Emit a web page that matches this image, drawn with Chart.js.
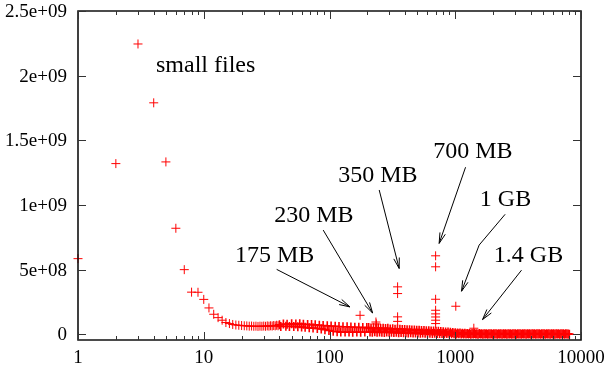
<!DOCTYPE html>
<html lang="en">
  <head>
    <meta charset="UTF-8" />
    <title>Bytes per file size</title>
    <script src="https://cdn.jsdelivr.net/npm/chart.js"></script>
    <style>
      html,
      body {
        margin: 0;
        padding: 0;
        background: #fff;
      }
      #chart-container {
        width: 608px;
        height: 368px;
      }
    </style>
  </head>
  <body>
    <div id="chart-container">
      <canvas id="sizeChart" width="608" height="368"></canvas>
    </div>

    <script>
      // file size (MB) -> total bytes, small sizes one by one
      const smallSizes = [
        1, 2, 3, 4, 5, 6, 7, 8, 9, 10, 11, 12, 13, 14, 15, 16, 17, 18, 19, 20,
        21, 22, 23, 24, 25, 26, 27, 28, 29, 30, 31, 32, 33, 34, 35, 36, 37, 38, 39,
      ];
      const smallTotals = [
        5.85e8, 1.32e9, 2.245e9, 1.79e9, 1.333e9, 8.2e8, 5.0e8, 3.26e8, 3.25e8, 2.7e8,
        2.04e8, 1.55e8, 1.29e8, 1.09e8, 9.1e7, 8.3e7, 7.6e7, 7.2e7, 7.0e7, 6.8e7,
        6.6e7, 6.5e7, 6.3e7, 6.4e7, 6.2e7, 6.3e7, 6.1e7, 6.3e7, 6.2e7, 6.4e7,
        6.2e7, 6.5e7, 6.3e7, 6.6e7, 6.4e7, 6.8e7, 6.5e7, 7.0e7, 6.6e7,
      ];

      // the dense band from 40 MB up
      const bandSizes = [
        40, 41, 43, 45, 46, 48, 50, 52, 54, 56,
        58, 60, 62, 64, 67, 69, 72, 74, 77, 80,
        83, 86, 89, 92, 96, 99, 103, 107, 111, 115,
        119, 123, 128, 133, 138, 143, 148, 153, 159, 165,
        171, 177, 184, 191, 198,
        205, 210, 214, 219, 224, 229, 234, 239, 244, 250,
        255, 261, 267, 273, 279, 285, 291, 298, 304, 311,
        318, 325, 332, 340, 347, 355, 363, 371, 379, 388,
        396, 405, 414, 423, 433, 442, 452, 462, 473, 483,
        494, 505, 516, 528, 539, 551, 564, 576, 589, 602,
        616, 629, 643, 658, 672, 687, 703, 718, 734, 751,
        767, 785, 802, 820, 838, 857, 876, 895, 915, 936,
        956, 978, 1000, 1022, 1044, 1068, 1091, 1116, 1140, 1166,
        1192, 1218, 1245, 1273, 1301, 1330, 1360, 1390, 1421, 1453,
        1485, 1518, 1552, 1586, 1622, 1658, 1695, 1732, 1771, 1810,
        1851, 1892, 1934, 1977, 2021, 2066, 2112, 2159, 2207, 2256,
        2306, 2357, 2410, 2463, 2518, 2574, 2631, 2690, 2750, 2811,
        2873, 2937, 3003, 3069, 3138, 3207, 3279, 3352, 3426, 3502,
        3580, 3660, 3741, 3824, 3909, 3996, 4085, 4176, 4269, 4364,
        4461, 4560, 4661, 4765, 4871, 4979, 5090, 5203, 5319, 5437,
        5558, 5682, 5808, 5937, 6069, 6204, 6342, 6483, 6627, 6775,
        6925, 7079, 7237, 7398, 7562, 7730, 7902, 8078,
      ];
      const bandTotals = [
        74e6, 60e6, 80e6, 62e6, 78e6, 60e6, 82e6, 61e6, 79e6, 58e6,
        81e6, 56e6, 77e6, 54e6, 76e6, 50e6, 75e6, 48e6, 73e6, 45e6,
        70e6, 42e6, 68e6, 36e6, 66e6, 30e6, 64e6, 24e6, 62e6, 20e6,
        60e6, 17e6, 59e6, 18e6, 58e6, 17e6, 56e6, 16e6, 55e6, 18e6,
        54e6, 16e6, 53e6, 17e6, 52e6,
        52e6, 18e6, 48e6, 16e6, 50e6, 19e6, 46e6, 15e6, 49e6, 18e6,
        45e6, 16e6, 47e6, 14e6, 44e6, 17e6, 46e6, 15e6, 42e6, 16e6,
        43e6, 14e6, 40e6, 15e6, 42e6, 13e6, 39e6, 14e6, 38e6, 12e6,
        37e6, 13e6, 36e6, 11e6, 35e6, 12e6, 34e6, 10e6, 33e6, 11e6,
        32e6, 10e6, 31e6, 9e6, 30e6, 10e6, 29e6, 8e6, 28e6, 9e6,
        27e6, 8e6, 26e6, 7e6, 25e6, 8e6, 24e6, 6e6, 23e6, 7e6,
        21e6, 6e6, 20e6, 5e6, 18e6, 6e6, 17e6, 4e6, 16e6, 5e6,
        14e6, 4e6, 12e6, 3e6, 11e6, 4e6, 10e6, 2e6, 9e6, 3e6,
        8e6, 2e6, 7e6, 3e6, 7e6, 1e6, 6e6, 2e6, 6e6, 2e6,
        5e6, 1e6, 6e6, 2e6, 5e6, 1e6, 4e6, 2e6, 5e6, 1e6,
        5e6, 2e6, 4e6, 1e6, 5e6, 2e6, 4e6, 1e6, 5e6, 2e6,
        4e6, 1e6, 5e6, 2e6, 4e6, 1e6, 5e6, 2e6, 4e6, 1e6,
        5e6, 2e6, 4e6, 1e6, 5e6, 2e6, 4e6, 1e6, 5e6, 2e6,
        4e6, 1e6, 5e6, 2e6, 4e6, 1e6, 5e6, 2e6, 4e6, 1e6,
        5e6, 2e6, 4e6, 1e6, 5e6, 2e6, 4e6, 1e6, 5e6, 2e6,
        4e6, 1e6, 5e6, 2e6, 4e6, 1e6, 5e6, 2e6, 4e6, 1e6,
        4e6, 2e6, 4e6, 1e6, 4e6, 2e6, 3e6, 1e6,
      ];

      // CD / DVD image sizes that stick out of the band
      const peakSizes = [175, 234, 236, 348, 348, 348, 348, 698, 698, 698, 698, 698, 698, 698, 698, 1010, 1405];
      const peakTotals = [
        1.47e8, 9.5e7, 8.0e7, 3.67e8, 3.15e8, 1.35e8, 1.0e8,
        6.07e8, 5.22e8, 2.71e8, 1.86e8, 1.58e8, 1.34e8, 1.09e8, 8.3e7,
        2.17e8, 4.7e7,
      ];

      const xTickValues = [1, 10, 100, 1000, 10000];
      const xTickLabels = ["1", "10", "100", "1000", "10000"];
      const yTickValues = [0, 5e8, 1e9, 1.5e9, 2e9, 2.5e9];
      const yTickLabels = ["0", "5e+08", "1e+09", "1.5e+09", "2e+09", "2.5e+09"];

      // labels and arrows, in data coordinates
      const noteTexts = ["small files", "175 MB", "230 MB", "350 MB", "700 MB", "1 GB", "1.4 GB"];
      const noteX = [4.17, 17.7, 36.3, 117.3, 667, 1569, 2027];
      const noteY = [2.029e9, 5.6e8, 8.7e8, 1.181e9, 1.362e9, 9.92e8, 5.6e8];
      const arrowPaths = [
        [[38.0, 5.02e8], [145.3, 2.12e8]],
        [[89.1, 8.06e8], [220.1, 1.65e8]],
        [[248.4, 1.116e9], [358.1, 5.09e8]],
        [[1207.5, 1.292e9], [744.7, 7.03e8]],
        [[2493, 9.28e8], [1549, 6.9e8], [1122, 3.33e8]],
        [[3365, 4.96e8], [1648, 1.14e8]],
      ];

      const serif = "'Liberation Serif', 'Times New Roman', serif";
      const toPoints = (xs, ys) => xs.map((s, i) => ({ x: s, y: ys[i] }));

      const framePlugin = {
        id: "frame",
        afterDraw(chart) {
          const { ctx, chartArea: a } = chart;
          const x = chart.scales.x;
          const y = chart.scales.y;
          const line = (x1, y1, x2, y2) => {
            ctx.beginPath();
            ctx.moveTo(x1, y1);
            ctx.lineTo(x2, y2);
            ctx.stroke();
          };
          ctx.save();
          // border box
          ctx.strokeStyle = "#111";
          ctx.lineWidth = 1.6;
          ctx.beginPath();
          ctx.rect(a.left, a.top, a.right - a.left, a.bottom - a.top);
          ctx.stroke();

          ctx.strokeStyle = "#333";
          ctx.lineWidth = 1;
          ctx.fillStyle = "#000";
          ctx.font = "19px " + serif;
          ctx.textAlign = "right";
          ctx.textBaseline = "middle";
          yTickValues.forEach((v, i) => {
            const py = Math.round(y.getPixelForValue(v)) + 0.5;
            line(a.left, py, a.left + 8, py);
            line(a.right - 8, py, a.right, py);
            ctx.fillText(yTickLabels[i], a.left - 11, py + 1);
          });
          for (let d = 1; d <= 1000; d *= 10) {
            for (let m = 1; m <= 10; m++) {
              const px = Math.round(x.getPixelForValue(d * m)) + 0.5;
              const len = m === 1 || m === 10 ? 8 : 4;
              line(px, a.bottom, px, a.bottom - len);
              line(px, a.top, px, a.top + len);
            }
          }
          ctx.textAlign = "center";
          xTickValues.forEach((v, i) => {
            ctx.fillText(xTickLabels[i], x.getPixelForValue(v), a.bottom + 18);
          });

          // arrows
          ctx.strokeStyle = "#000";
          arrowPaths.forEach((path) => {
            const pts = path.map(([vx, vy]) => [x.getPixelForValue(vx), y.getPixelForValue(vy)]);
            ctx.beginPath();
            ctx.moveTo(pts[0][0], pts[0][1]);
            pts.slice(1).forEach((p) => ctx.lineTo(p[0], p[1]));
            ctx.stroke();
            const [p1, p2] = pts.slice(-2);
            const ang = Math.atan2(p2[1] - p1[1], p2[0] - p1[0]);
            const hl = 11;
            ctx.beginPath();
            ctx.moveTo(p2[0] - hl * Math.cos(ang - 0.26), p2[1] - hl * Math.sin(ang - 0.26));
            ctx.lineTo(p2[0], p2[1]);
            ctx.lineTo(p2[0] - hl * Math.cos(ang + 0.26), p2[1] - hl * Math.sin(ang + 0.26));
            ctx.stroke();
          });

          // text labels
          ctx.font = "24px " + serif;
          ctx.textAlign = "left";
          ctx.textBaseline = "alphabetic";
          noteTexts.forEach((t, i) => {
            ctx.fillText(t, x.getPixelForValue(noteX[i]), y.getPixelForValue(noteY[i]));
          });
          ctx.restore();
        },
      };

      const markStyle = {
        pointStyle: "cross",
        pointRadius: 4.5,
        borderColor: "#ff0000",
        backgroundColor: "#ff0000",
        clip: false,
      };

      new Chart(document.getElementById("sizeChart"), {
        type: "scatter",
        data: {
          datasets: [
            { ...markStyle, data: toPoints(smallSizes, smallTotals), pointBorderWidth: 1 },
            { ...markStyle, data: toPoints(bandSizes, bandTotals), pointBorderWidth: 1.6 },
            { ...markStyle, data: toPoints(peakSizes, peakTotals), pointBorderWidth: 1 },
          ],
        },
        options: {
          responsive: false,
          animation: false,
          layout: { padding: { top: 11, right: 27, left: 0, bottom: 0 } },
          plugins: { legend: { display: false }, tooltip: { enabled: false } },
          scales: {
            x: {
              type: "logarithmic",
              min: 1,
              max: 10000,
              grid: { display: false, drawTicks: false },
              border: { display: false },
              ticks: { display: false },
              afterFit: (scale) => {
                scale.height = 28;
              },
            },
            y: {
              min: -4.4e7,
              max: 2.5e9,
              grid: { display: false, drawTicks: false },
              border: { display: false },
              ticks: { display: false },
              afterFit: (scale) => {
                scale.width = 78;
              },
            },
          },
        },
        plugins: [framePlugin],
      });
    </script>
  </body>
</html>
